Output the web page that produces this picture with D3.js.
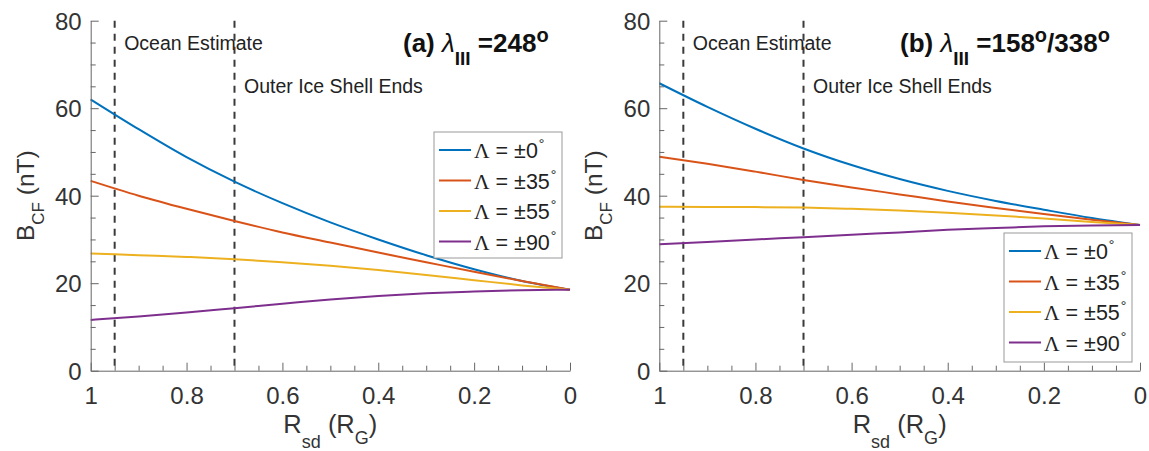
<!DOCTYPE html>
<html>
<head>
<meta charset="utf-8">
<script src="https://cdn.jsdelivr.net/npm/d3@7"></script>
<style>
  body { margin: 0; background: #fff; }
  svg { display: block; font-family: "Liberation Sans", Arial, Helvetica, sans-serif; }
</style>
</head>
<body>
<script>
const w = 1149;
const h = 451;

// radius samples (R_G), from 1 down to 0
const radius = [1, 0.9, 0.8, 0.7, 0.6, 0.5, 0.4, 0.3, 0.2, 0.1, 0];
const latitudes = ["0", "35", "55", "90"];
const colors = ["#0072BD", "#D95319", "#EDB120", "#7E2F8E"];

// panel (a) lambda_III = 248
const a0 = [62.0, 55.2, 48.8, 43.2, 38.3, 33.9, 30.0, 26.4, 23.2, 20.5, 18.5];
const a35 = [43.4, 40.0, 37.0, 34.2, 31.6, 29.3, 27.0, 24.8, 22.6, 20.5, 18.5];
const a55 = [26.8, 26.4, 26.0, 25.5, 24.8, 24.0, 23.0, 21.9, 20.7, 19.5, 18.5];
const a90 = [11.6, 12.4, 13.3, 14.3, 15.3, 16.3, 17.1, 17.7, 18.1, 18.4, 18.5];

// panel (b) lambda_III = 158/338
const b0 = [65.7, 60.3, 55.3, 50.8, 47.0, 43.8, 41.1, 38.8, 36.8, 34.9, 33.3];
const b35 = [48.9, 47.3, 45.5, 43.6, 41.9, 40.3, 38.7, 37.2, 35.8, 34.5, 33.3];
const b55 = [37.5, 37.4, 37.4, 37.3, 37.0, 36.6, 36.1, 35.5, 34.8, 34.0, 33.3];
const b90 = [28.9, 29.4, 30.0, 30.5, 31.1, 31.6, 32.2, 32.6, 33.0, 33.2, 33.3];

const markers = [0.95, 0.7];
const markerLabels = ["Ocean Estimate", "Outer Ice Shell Ends"];
const yTicks = [0, 20, 40, 60, 80];
const yMinor = [5, 10, 15, 25, 30, 35, 45, 50, 55, 65, 70, 75];
const xTicks = [1, 0.8, 0.6, 0.4, 0.2, 0];
const xMinor = [0.95, 0.9, 0.85, 0.75, 0.7, 0.65, 0.55, 0.5, 0.45, 0.35, 0.3, 0.25, 0.15, 0.1, 0.05];

const panels = [
  { left: 90.7, right: 570, tag: "(a) ", lon: "=248", lon2: null, titleX: 403,
    series: [a0, a35, a55, a90], legend: { x: 434, y: 132, w: 128, h: 126 } },
  { left: 659.3, right: 1140, tag: "(b) ", lon: "=158", lon2: "/338", titleX: 900,
    series: [b0, b35, b55, b90], legend: { x: 1004, y: 233, w: 128, h: 129 } }
];

const plotTop = 20.7, plotBottom = 370.7;

const svg = d3.select("body").append("svg")
  .attr("width", w)
  .attr("height", h);

const y = d3.scaleLinear().domain([0, 80]).range([plotBottom, plotTop]);

panels.forEach(p => {
  const x = d3.scaleLinear().domain([1, 0]).range([p.left, p.right]);
  const g = svg.append("g");

  // minor ticks first
  g.append("g")
    .attr("transform", `translate(${p.left},0)`)
    .call(d3.axisLeft(y).tickValues(yMinor).tickSize(-5).tickSizeOuter(0).tickFormat(""))
    .call(a => a.select(".domain").remove())
    .selectAll("line").attr("stroke", "#666");
  g.append("g")
    .attr("transform", `translate(0,${plotBottom})`)
    .call(d3.axisBottom(x).tickValues(xMinor).tickSize(-5).tickSizeOuter(0).tickFormat(""))
    .call(a => a.select(".domain").remove())
    .selectAll("line").attr("stroke", "#666");

  // dashed markers
  markers.forEach((m, i) => {
    g.append("line")
      .attr("x1", x(m)).attr("x2", x(m))
      .attr("y1", plotTop).attr("y2", plotBottom)
      .attr("stroke", "#3a3a3a")
      .attr("stroke-width", 2)
      .attr("stroke-dasharray", "7,6");
    g.append("text")
      .attr("x", x(m) + 9.5)
      .attr("y", i === 0 ? 50 : 93)
      .attr("font-size", 19.5)
      .attr("fill", "#222")
      .text(markerLabels[i]);
  });

  // curves
  const line = d3.line()
    .x((d, i) => x(radius[i]))
    .y(d => y(d))
    .curve(d3.curveMonotoneX);
  p.series.forEach((s, i) => {
    g.append("path")
      .datum(s)
      .attr("d", line)
      .attr("fill", "none")
      .attr("stroke", colors[i])
      .attr("stroke-width", 2);
  });

  // axes
  const yAxis = g.append("g")
    .attr("transform", `translate(${p.left},0)`)
    .call(d3.axisLeft(y).tickValues(yTicks).tickSize(-8).tickSizeOuter(0).tickPadding(9));
  const xAxis = g.append("g")
    .attr("transform", `translate(0,${plotBottom})`)
    .call(d3.axisBottom(x).tickValues(xTicks).tickSize(-8).tickSizeOuter(0).tickPadding(11)
      .tickFormat(d => d3.format("")(d)));
  [yAxis, xAxis].forEach(a => {
    a.select(".domain").attr("stroke", "#666");
    a.selectAll(".tick line").attr("stroke", "#666");
    a.selectAll("text").attr("font-size", 24).attr("fill", "#333")
      .attr("font-family", "Liberation Sans, Arial, sans-serif");
  });
  xAxis.selectAll("text").attr("dy", "0.95em");
  yAxis.selectAll("text").attr("dy", "0.36em");

  // axis titles
  const xt = g.append("text")
    .attr("x", (p.left + p.right) / 2)
    .attr("y", 433)
    .attr("text-anchor", "middle")
    .attr("font-size", 25.5)
    .attr("fill", "#333");
  xt.append("tspan").text("R");
  xt.append("tspan").attr("font-size", 18).attr("dy", 15).text("sd");
  xt.append("tspan").attr("dy", -15).text(" (R");
  xt.append("tspan").attr("font-size", 18).attr("dy", 11).text("G");
  xt.append("tspan").attr("dy", -11).text(")");

  const yt = g.append("text")
    .attr("transform", `translate(${p.left - 57},${(plotTop + plotBottom) / 2}) rotate(-90)`)
    .attr("text-anchor", "middle")
    .attr("font-size", 24.5)
    .attr("fill", "#333");
  yt.append("tspan").text("B");
  yt.append("tspan").attr("font-size", 17).attr("dy", 10).text("CF");
  yt.append("tspan").attr("dy", -10).text(" (nT)");

  // panel title
  const tt = g.append("text")
    .attr("x", p.titleX)
    .attr("y", 52)
    .attr("font-size", 26)
    .attr("font-weight", "bold")
    .attr("fill", "#111");
  tt.append("tspan").text(p.tag);
  tt.append("tspan").attr("font-style", "italic").attr("font-weight", "normal").attr("font-size", 26).text("λ");
  tt.append("tspan").attr("font-size", 19).attr("dy", 13).text("III");
  tt.append("tspan").attr("dy", -13).text(" " + p.lon);
  tt.append("tspan").attr("font-size", 20).attr("dy", -10).text("o");
  if (p.lon2) {
    tt.append("tspan").attr("dy", 10).text(p.lon2);
    tt.append("tspan").attr("font-size", 20).attr("dy", -10).text("o");
  }

  // legend
  const L = p.legend;
  const lg = g.append("g").attr("transform", `translate(${L.x},${L.y})`);
  lg.append("rect")
    .attr("width", L.w).attr("height", L.h)
    .attr("fill", "#fff")
    .attr("stroke", "#999")
    .attr("stroke-width", 1);
  latitudes.forEach((lat, i) => {
    const ry = 18 + 30.5 * i;
    lg.append("line")
      .attr("x1", 5).attr("x2", 37)
      .attr("y1", ry).attr("y2", ry)
      .attr("stroke", colors[i])
      .attr("stroke-width", 2);
    const t = lg.append("text")
      .attr("x", 40)
      .attr("y", ry + 8)
      .attr("font-size", 21.5)
      .attr("fill", "#222");
    t.append("tspan").attr("font-family", "Liberation Serif, Times New Roman, serif").text("Λ");
    t.append("tspan").text(" = ±" + lat);
    t.append("tspan").attr("font-size", 14).attr("dy", -9).attr("dx", 1).text("°");
  });
});
</script>
</body>
</html>
